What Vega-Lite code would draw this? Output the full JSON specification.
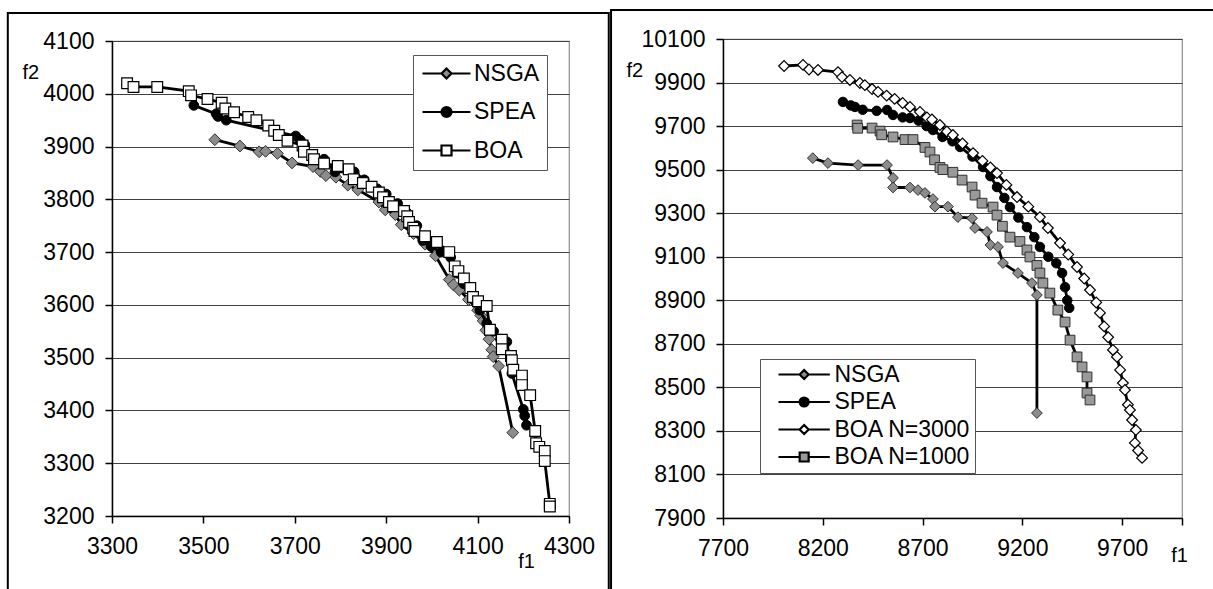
{
  "$schema": "https://vega.github.io/schema/vega-lite/v6.json",
  "padding": {"left": 3, "top": 5, "right": 0, "bottom": 0},
  "background": "white",
  "spacing": 154,
  "bounds": "flush",
  "center": true,
  "datasets": {
    "lN": [{"f1":3525,"f2":3913},{"f1":3580,"f2":3901},{"f1":3622,"f2":3890},{"f1":3636,"f2":3891},{"f1":3662,"f2":3887},{"f1":3694,"f2":3869},{"f1":3740,"f2":3862},{"f1":3756,"f2":3853},{"f1":3768,"f2":3845},{"f1":3790,"f2":3842},{"f1":3816,"f2":3827},{"f1":3838,"f2":3818},{"f1":3884,"f2":3795},{"f1":3898,"f2":3780},{"f1":3920,"f2":3771},{"f1":3933,"f2":3752},{"f1":3960,"f2":3735},{"f1":3985,"f2":3715},{"f1":4008,"f2":3693},{"f1":4038,"f2":3648},{"f1":4047,"f2":3638},{"f1":4060,"f2":3628},{"f1":4080,"f2":3610},{"f1":4100,"f2":3590},{"f1":4107,"f2":3580},{"f1":4112,"f2":3570},{"f1":4118,"f2":3552},{"f1":4125,"f2":3535},{"f1":4131,"f2":3515},{"f1":4134,"f2":3502},{"f1":4146,"f2":3484},{"f1":4177,"f2":3358}],
    "lS": [{"f1":3479,"f2":3978},{"f1":3528,"f2":3962},{"f1":3532,"f2":3957},{"f1":3550,"f2":3950},{"f1":3702,"f2":3920},{"f1":3712,"f2":3912},{"f1":3722,"f2":3903},{"f1":3740,"f2":3880},{"f1":3764,"f2":3876},{"f1":3788,"f2":3852},{"f1":3830,"f2":3852},{"f1":3852,"f2":3837},{"f1":3880,"f2":3820},{"f1":3900,"f2":3810},{"f1":3925,"f2":3792},{"f1":3945,"f2":3775},{"f1":3967,"f2":3750},{"f1":3980,"f2":3722},{"f1":3998,"f2":3711},{"f1":4020,"f2":3700},{"f1":4041,"f2":3690},{"f1":4055,"f2":3660},{"f1":4070,"f2":3640},{"f1":4090,"f2":3612},{"f1":4105,"f2":3590},{"f1":4120,"f2":3565},{"f1":4135,"f2":3550},{"f1":4150,"f2":3535},{"f1":4164,"f2":3530},{"f1":4175,"f2":3470},{"f1":4200,"f2":3402},{"f1":4203,"f2":3390},{"f1":4207,"f2":3372}],
    "lB": [{"f1":3333,"f2":4020},{"f1":3347,"f2":4013},{"f1":3399,"f2":4013},{"f1":3468,"f2":4005},{"f1":3473,"f2":3997},{"f1":3509,"f2":3990},{"f1":3540,"f2":3983},{"f1":3548,"f2":3972},{"f1":3567,"f2":3965},{"f1":3598,"f2":3956},{"f1":3616,"f2":3950},{"f1":3642,"f2":3940},{"f1":3655,"f2":3930},{"f1":3665,"f2":3922},{"f1":3684,"f2":3911},{"f1":3717,"f2":3902},{"f1":3720,"f2":3890},{"f1":3738,"f2":3884},{"f1":3742,"f2":3876},{"f1":3764,"f2":3868},{"f1":3794,"f2":3863},{"f1":3818,"f2":3857},{"f1":3829,"f2":3838},{"f1":3849,"f2":3831},{"f1":3868,"f2":3824},{"f1":3884,"f2":3813},{"f1":3893,"f2":3804},{"f1":3906,"f2":3795},{"f1":3915,"f2":3787},{"f1":3939,"f2":3778},{"f1":3946,"f2":3768},{"f1":3950,"f2":3757},{"f1":3959,"f2":3746},{"f1":3962,"f2":3740},{"f1":3985,"f2":3730},{"f1":4011,"f2":3719},{"f1":4038,"f2":3700},{"f1":4050,"f2":3673},{"f1":4058,"f2":3664},{"f1":4070,"f2":3650},{"f1":4084,"f2":3632},{"f1":4090,"f2":3615},{"f1":4101,"f2":3607},{"f1":4120,"f2":3598},{"f1":4127,"f2":3553},{"f1":4153,"f2":3534},{"f1":4153,"f2":3516},{"f1":4173,"f2":3503},{"f1":4175,"f2":3495},{"f1":4178,"f2":3477},{"f1":4197,"f2":3466},{"f1":4197,"f2":3448},{"f1":4215,"f2":3429},{"f1":4226,"f2":3361},{"f1":4228,"f2":3338},{"f1":4235,"f2":3331},{"f1":4247,"f2":3323},{"f1":4247,"f2":3304},{"f1":4258,"f2":3223},{"f1":4258,"f2":3218}],
    "rN": [{"f1":8150,"f2":9553},{"f1":8226,"f2":9530},{"f1":8377,"f2":9521},{"f1":8522,"f2":9521},{"f1":8552,"f2":9462},{"f1":8552,"f2":9418},{"f1":8637,"f2":9418},{"f1":8677,"f2":9406},{"f1":8712,"f2":9393},{"f1":8752,"f2":9365},{"f1":8762,"f2":9330},{"f1":8827,"f2":9330},{"f1":8877,"f2":9282},{"f1":8948,"f2":9277},{"f1":8963,"f2":9232},{"f1":9023,"f2":9214},{"f1":9040,"f2":9154},{"f1":9078,"f2":9145},{"f1":9103,"f2":9071},{"f1":9178,"f2":9025},{"f1":9248,"f2":8979},{"f1":9273,"f2":8924},{"f1":9273,"f2":8382}],
    "rS": [{"f1":8301,"f2":9811},{"f1":8340,"f2":9795},{"f1":8361,"f2":9788},{"f1":8400,"f2":9775},{"f1":8470,"f2":9770},{"f1":8522,"f2":9774},{"f1":8552,"f2":9751},{"f1":8600,"f2":9740},{"f1":8637,"f2":9737},{"f1":8680,"f2":9725},{"f1":8720,"f2":9700},{"f1":8752,"f2":9682},{"f1":8800,"f2":9650},{"f1":8850,"f2":9630},{"f1":8888,"f2":9604},{"f1":8950,"f2":9560},{"f1":9003,"f2":9512},{"f1":9040,"f2":9470},{"f1":9073,"f2":9420},{"f1":9110,"f2":9370},{"f1":9138,"f2":9328},{"f1":9180,"f2":9280},{"f1":9223,"f2":9236},{"f1":9260,"f2":9190},{"f1":9288,"f2":9145},{"f1":9330,"f2":9100},{"f1":9370,"f2":9070},{"f1":9399,"f2":9025},{"f1":9414,"f2":8960},{"f1":9425,"f2":8900},{"f1":9435,"f2":8865}],
    "r3": [{"f1":8006,"f2":9976},{"f1":8101,"f2":9981},{"f1":8131,"f2":9960},{"f1":8176,"f2":9958},{"f1":8276,"f2":9948},{"f1":8296,"f2":9925},{"f1":8336,"f2":9912},{"f1":8386,"f2":9898},{"f1":8411,"f2":9888},{"f1":8447,"f2":9870},{"f1":8477,"f2":9857},{"f1":8520,"f2":9840},{"f1":8560,"f2":9825},{"f1":8600,"f2":9806},{"f1":8637,"f2":9788},{"f1":8687,"f2":9765},{"f1":8722,"f2":9740},{"f1":8747,"f2":9730},{"f1":8787,"f2":9705},{"f1":8822,"f2":9675},{"f1":8852,"f2":9659},{"f1":8900,"f2":9620},{"f1":8953,"f2":9576},{"f1":9000,"f2":9540},{"f1":9040,"f2":9510},{"f1":9073,"f2":9484},{"f1":9120,"f2":9430},{"f1":9173,"f2":9374},{"f1":9230,"f2":9330},{"f1":9288,"f2":9282},{"f1":9328,"f2":9232},{"f1":9389,"f2":9163},{"f1":9430,"f2":9110},{"f1":9474,"f2":9053},{"f1":9510,"f2":9000},{"f1":9539,"f2":8947},{"f1":9570,"f2":8890},{"f1":9589,"f2":8842},{"f1":9610,"f2":8780},{"f1":9630,"f2":8730},{"f1":9654,"f2":8672},{"f1":9674,"f2":8640},{"f1":9690,"f2":8580},{"f1":9704,"f2":8520},{"f1":9714,"f2":8488},{"f1":9729,"f2":8420},{"f1":9739,"f2":8396},{"f1":9750,"f2":8350},{"f1":9769,"f2":8304},{"f1":9764,"f2":8245},{"f1":9780,"f2":8210},{"f1":9800,"f2":8176}],
    "r1": [{"f1":8372,"f2":9705},{"f1":8375,"f2":9690},{"f1":8447,"f2":9691},{"f1":8487,"f2":9677},{"f1":8495,"f2":9660},{"f1":8552,"f2":9650},{"f1":8612,"f2":9638},{"f1":8652,"f2":9638},{"f1":8712,"f2":9602},{"f1":8737,"f2":9581},{"f1":8760,"f2":9545},{"f1":8787,"f2":9510},{"f1":8802,"f2":9500},{"f1":8852,"f2":9488},{"f1":8898,"f2":9452},{"f1":8948,"f2":9420},{"f1":8963,"f2":9383},{"f1":8998,"f2":9346},{"f1":9053,"f2":9328},{"f1":9073,"f2":9291},{"f1":9100,"f2":9240},{"f1":9138,"f2":9190},{"f1":9188,"f2":9170},{"f1":9223,"f2":9131},{"f1":9238,"f2":9099},{"f1":9273,"f2":9060},{"f1":9288,"f2":9025},{"f1":9303,"f2":8979},{"f1":9338,"f2":8933},{"f1":9378,"f2":8855},{"f1":9414,"f2":8800},{"f1":9439,"f2":8717},{"f1":9474,"f2":8640},{"f1":9499,"f2":8594},{"f1":9524,"f2":8548},{"f1":9524,"f2":8474},{"f1":9539,"f2":8442}]
  },
  "hconcat": [
    {
      "width": 457,
      "height": 475,
      "encoding": {
        "x": {"field": "f1", "type": "quantitative",
          "scale": {"domain": [3300, 4300], "nice": false, "zero": false},
          "axis": {"grid": false, "values": [3300,3500,3700,3900,4100,4300], "format": "d", "labelPadding": 12, "labelFlush": false, "labelOverlap": false,
            "title": "f1", "titleX": 414, "titleY": 45, "titleAlign": "center", "titleBaseline": "middle", "titleAngle": 0}},
        "y": {"field": "f2", "type": "quantitative",
          "scale": {"domain": [3200, 4100], "nice": false, "zero": false},
          "axis": {"grid": true, "values": [3200,3300,3400,3500,3600,3700,3800,3900,4000,4100], "format": "d", "labelPadding": 11, "labelOverlap": false,
            "title": "f2", "titleX": -90, "titleY": 31, "titleAlign": "left", "titleBaseline": "middle", "titleAngle": 0}}
      },
      "layer": [
        {"data": {"values": [{"f1": 3072, "f2": 3000}, {"f1": 3072, "f2": 4153}, {"f1": 4387, "f2": 4153}, {"f1": 4387, "f2": 3000}]},
         "mark": {"type": "line", "color": "black", "strokeWidth": 2}, "encoding": {"order": {"value": null}}},
        {"data": {"name": "lN"}, "mark": {"type": "line", "color": "black", "strokeWidth": 2.8}, "encoding": {"order": {"value": null}}},
        {"data": {"name": "lN"}, "mark": {"type": "point", "shape": "diamond", "filled": true, "fill": "#8c8c8c", "stroke": "#303030", "strokeWidth": 1, "size": 140, "opacity": 1}},
        {"data": {"name": "lS"}, "mark": {"type": "line", "color": "black", "strokeWidth": 2.8}, "encoding": {"order": {"value": null}}},
        {"data": {"name": "lS"}, "mark": {"type": "point", "shape": "circle", "filled": true, "fill": "black", "stroke": "black", "strokeWidth": 1, "size": 95, "opacity": 1}},
        {"data": {"name": "lB"}, "mark": {"type": "line", "color": "black", "strokeWidth": 2.8}, "encoding": {"order": {"value": null}}},
        {"data": {"name": "lB"}, "mark": {"type": "point", "shape": "square", "filled": true, "fill": "white", "stroke": "black", "strokeWidth": 1.2, "size": 115, "opacity": 1}},
        {"data": {"values": [{"series": "NSGA"}, {"series": "SPEA"}, {"series": "BOA"}]},
         "mark": {"type": "point", "filled": true, "stroke": "black", "strokeWidth": 2},
         "encoding": {
           "shape": {"field": "series", "type": "nominal",
             "scale": {"domain": ["NSGA", "SPEA", "BOA"], "range": ["M-1,0H2.8M4.8,0H8.6M2.8,0L3.8,-1L4.8,0L3.8,1Z", "M-1,0H2.8M4.8,0H8.6M2.8,0A1,1,0,1,1,4.8,0A1,1,0,1,1,2.8,0Z", "M-1,0H2.8M4.8,0H8.6M2.8,-1H4.8V1H2.8Z"]},
             "legend": {"orient": "none", "legendX": 301, "legendY": 14, "title": null, "direction": "vertical", "padding": 7, "fillColor": "white", "strokeColor": "#555555", "symbolSize": 100, "symbolStrokeWidth": 2.2, "symbolStrokeColor": "black", "symbolOffset": -4, "labelOffset": 35, "labelFontSize": 23, "labelFont": "Liberation Sans", "labelColor": "black", "rowPadding": 14.5, "symbolOpacity": 1}},
           "fill": {"field": "series", "type": "nominal",
             "scale": {"domain": ["NSGA", "SPEA", "BOA"], "range": ["#8c8c8c", "black", "white"]},
             "legend": {"orient": "none", "legendX": 301, "legendY": 14, "title": null, "direction": "vertical", "padding": 7, "fillColor": "white", "strokeColor": "#555555", "symbolSize": 100, "symbolStrokeWidth": 2.2, "symbolStrokeColor": "black", "symbolOffset": -4, "labelOffset": 35, "labelFontSize": 23, "labelFont": "Liberation Sans", "labelColor": "black", "rowPadding": 14.5, "symbolOpacity": 1}},
           "stroke": {"field": "series", "type": "nominal",
             "scale": {"domain": ["NSGA", "SPEA", "BOA"], "range": ["black", "black", "black"]},
             "legend": {"orient": "none", "legendX": 301, "legendY": 14, "title": null, "direction": "vertical", "padding": 7, "fillColor": "white", "strokeColor": "#555555", "symbolSize": 100, "symbolStrokeWidth": 2.2, "symbolStrokeColor": "black", "symbolOffset": -4, "labelOffset": 35, "labelFontSize": 23, "labelFont": "Liberation Sans", "labelColor": "black", "rowPadding": 14.5, "symbolOpacity": 1}}
         }}
      ]
    },
    {
      "width": 459,
      "height": 479,
      "encoding": {
        "x": {"field": "f1", "type": "quantitative",
          "scale": {"domain": [7700, 10000], "nice": false, "zero": false},
          "axis": {"grid": false, "values": [7700,8200,8700,9200,9700,10000], "format": "d", "labelExpr": "datum.value == 10000 ? '' : datum.label", "labelPadding": 12, "labelFlush": false, "labelOverlap": false,
            "title": "f1", "titleX": 456, "titleY": 37, "titleAlign": "center", "titleBaseline": "middle", "titleAngle": 0}},
        "y": {"field": "f2", "type": "quantitative",
          "scale": {"domain": [7900, 10100], "nice": false, "zero": false},
          "axis": {"grid": true, "values": [7900,8100,8300,8500,8700,8900,9100,9300,9500,9700,9900,10100], "format": "d", "labelPadding": 11, "labelOverlap": false,
            "title": "f2", "titleX": -97, "titleY": 31, "titleAlign": "left", "titleBaseline": "middle", "titleAngle": 0}}
      },
      "layer": [
        {"data": {"values": [{"f1": 7139, "f2": 7500}, {"f1": 7139, "f2": 10233}, {"f1": 10160, "f2": 10233}]},
         "mark": {"type": "line", "color": "black", "strokeWidth": 2}, "encoding": {"order": {"value": null}}},
        {"data": {"name": "rN"}, "mark": {"type": "line", "color": "black", "strokeWidth": 2.8}, "encoding": {"order": {"value": null}}},
        {"data": {"name": "rN"}, "mark": {"type": "point", "shape": "diamond", "filled": true, "fill": "#8c8c8c", "stroke": "#303030", "strokeWidth": 1, "size": 115, "opacity": 1}},
        {"data": {"name": "rS"}, "mark": {"type": "line", "color": "black", "strokeWidth": 2.8}, "encoding": {"order": {"value": null}}},
        {"data": {"name": "rS"}, "mark": {"type": "point", "shape": "circle", "filled": true, "fill": "black", "stroke": "black", "strokeWidth": 1, "size": 90, "opacity": 1}},
        {"data": {"name": "r3"}, "mark": {"type": "line", "color": "black", "strokeWidth": 2.8}, "encoding": {"order": {"value": null}}},
        {"data": {"name": "r3"}, "mark": {"type": "point", "shape": "diamond", "filled": true, "fill": "white", "stroke": "black", "strokeWidth": 1.2, "size": 115, "opacity": 1}},
        {"data": {"name": "r1"}, "mark": {"type": "line", "color": "black", "strokeWidth": 2.8}, "encoding": {"order": {"value": null}}},
        {"data": {"name": "r1"}, "mark": {"type": "point", "shape": "square", "filled": true, "fill": "#999999", "stroke": "#303030", "strokeWidth": 1, "size": 95, "opacity": 1}},
        {"data": {"values": [{"series": "NSGA"}, {"series": "SPEA"}, {"series": "BOA N=3000"}, {"series": "BOA N=1000"}]},
         "mark": {"type": "point", "filled": true, "stroke": "black", "strokeWidth": 2},
         "encoding": {
           "shape": {"field": "series", "type": "nominal",
             "scale": {"domain": ["NSGA", "SPEA", "BOA N=3000", "BOA N=1000"], "range": ["M-1,0H3.7M5.7,0H10.4M3.7,0L4.7,-1L5.7,0L4.7,1Z", "M-1,0H3.7M5.7,0H10.4M3.7,0A1,1,0,1,1,5.7,0A1,1,0,1,1,3.7,0Z", "M-1,0H3.7M5.7,0H10.4M3.7,0L4.7,-1L5.7,0L4.7,1Z", "M-1,0H3.7M5.7,0H10.4M3.7,-1H5.7V1H3.7Z"]},
             "legend": {"orient": "none", "legendX": 37, "legendY": 320, "title": null, "direction": "vertical", "padding": 4, "fillColor": "white", "strokeColor": "#555555", "symbolSize": 81, "symbolStrokeWidth": 2.2, "symbolStrokeColor": "black", "symbolOffset": 7.5, "labelOffset": 40, "labelFontSize": 23, "labelFont": "Liberation Sans", "labelColor": "black", "rowPadding": 3.5, "symbolOpacity": 1}},
           "fill": {"field": "series", "type": "nominal",
             "scale": {"domain": ["NSGA", "SPEA", "BOA N=3000", "BOA N=1000"], "range": ["#8c8c8c", "black", "white", "#999999"]},
             "legend": {"orient": "none", "legendX": 37, "legendY": 320, "title": null, "direction": "vertical", "padding": 4, "fillColor": "white", "strokeColor": "#555555", "symbolSize": 81, "symbolStrokeWidth": 2.2, "symbolStrokeColor": "black", "symbolOffset": 7.5, "labelOffset": 40, "labelFontSize": 23, "labelFont": "Liberation Sans", "labelColor": "black", "rowPadding": 3.5, "symbolOpacity": 1}},
           "stroke": {"field": "series", "type": "nominal",
             "scale": {"domain": ["NSGA", "SPEA", "BOA N=3000", "BOA N=1000"], "range": ["black", "black", "black", "black"]},
             "legend": {"orient": "none", "legendX": 37, "legendY": 320, "title": null, "direction": "vertical", "padding": 4, "fillColor": "white", "strokeColor": "#555555", "symbolSize": 81, "symbolStrokeWidth": 2.2, "symbolStrokeColor": "black", "symbolOffset": 7.5, "labelOffset": 40, "labelFontSize": 23, "labelFont": "Liberation Sans", "labelColor": "black", "rowPadding": 3.5, "symbolOpacity": 1}}
         }}
      ]
    }
  ],
  "resolve": {
    "scale": {"x": "independent", "y": "independent", "shape": "independent", "fill": "independent", "stroke": "independent"},
    "legend": {"shape": "independent", "fill": "independent", "stroke": "independent"}
  },
  "config": {
    "font": "Liberation Sans",
    "view": {"stroke": "#8c8c8c", "strokeWidth": 1.2},
    "axis": {
      "labelFontSize": 23, "labelFont": "Liberation Sans", "labelColor": "black",
      "domainColor": "black", "domainWidth": 1.5,
      "tickColor": "black", "tickWidth": 1.5, "tickSize": 7,
      "titleFontSize": 20, "titleFont": "Liberation Sans", "titleFontWeight": "normal", "titleColor": "black",
      "gridColor": "#404040", "gridWidth": 1
    }
  }
}
